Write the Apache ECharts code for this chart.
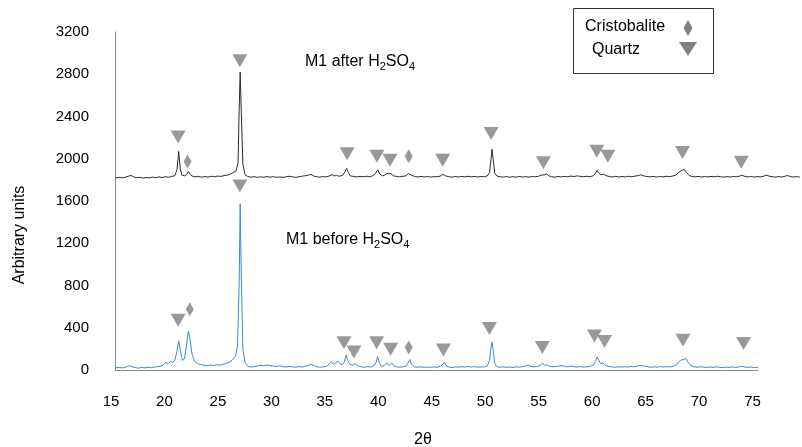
<!DOCTYPE html>
<html>
<head>
<meta charset="utf-8">
<title>XRD M1</title>
<script src="https://cdn.jsdelivr.net/npm/echarts@6/dist/echarts.min.js"></script>
<style>
  html, body { margin: 0; padding: 0; background: #fff; }
  #chart { width: 802px; height: 447px; }
</style>
</head>
<body>
<div id="chart"></div>
<script>
// 2θ tick labels
const xTicks = [15, 20, 25, 30, 35, 40, 45, 50, 55, 60, 65, 70, 75]
const yTicks = [0, 400, 800, 1200, 1600, 2000, 2400, 2800, 3200]

// M1 after H2SO4 (black trace), [2θ, counts]
const afterAcid = [
  [15.4,1818],[15.8,1824],[16.1,1819],[16.4,1827],[16.7,1836],[16.9,1842],[17.1,1830],[17.4,1821],[17.7,1824],[18.0,1817],
  [18.3,1823],[18.6,1819],[18.9,1826],[19.2,1821],[19.5,1828],[19.8,1822],[20.1,1830],[20.4,1825],[20.7,1833],[21.0,1840],
  [21.2,1900],[21.35,2070],[21.5,1905],[21.65,1845],[21.9,1838],[22.1,1850],[22.25,1880],[22.4,1855],[22.6,1836],[22.9,1829],
  [23.2,1833],[23.5,1826],[23.8,1831],[24.1,1827],[24.4,1834],[24.7,1829],[25.0,1836],[25.3,1833],[25.6,1840],[25.9,1845],
  [26.2,1855],[26.45,1870],[26.7,1880],[26.9,1960],[27.0,2450],[27.1,2820],[27.2,2450],[27.35,1950],[27.55,1850],[27.8,1832],
  [28.1,1826],[28.4,1830],[28.7,1824],[29.0,1829],[29.3,1825],[29.6,1831],[29.9,1826],[30.2,1830],[30.5,1824],[30.8,1828],
  [31.1,1823],[31.4,1830],[31.7,1834],[32.0,1828],[32.3,1824],[32.6,1829],[32.9,1835],[33.2,1840],[33.5,1845],[33.7,1852],
  [33.95,1838],[34.2,1830],[34.5,1826],[34.8,1831],[35.1,1828],[35.4,1836],[35.7,1850],[35.9,1838],[36.1,1842],[36.3,1835],
  [36.5,1838],[36.7,1845],[36.9,1880],[37.05,1910],[37.2,1870],[37.4,1838],[37.7,1832],[38.0,1828],[38.3,1833],[38.6,1829],
  [38.9,1834],[39.2,1830],[39.5,1840],[39.75,1860],[39.95,1895],[40.15,1855],[40.4,1838],[40.6,1845],[40.8,1860],[40.95,1845],
  [41.2,1858],[41.4,1840],[41.7,1832],[42.0,1829],[42.3,1834],[42.6,1838],[42.8,1860],[42.95,1872],[43.1,1845],[43.4,1832],
  [43.7,1828],[44.0,1833],[44.3,1827],[44.6,1832],[44.9,1826],[45.2,1831],[45.5,1829],[45.8,1836],[46.05,1852],[46.3,1838],
  [46.6,1830],[46.9,1826],[47.2,1832],[47.5,1827],[47.8,1833],[48.1,1828],[48.4,1834],[48.7,1829],[49.0,1833],[49.3,1827],
  [49.6,1832],[49.9,1830],[50.2,1838],[50.4,1870],[50.55,2000],[50.64,2090],[50.75,1990],[50.9,1860],[51.1,1836],[51.4,1830],
  [51.7,1826],[52.0,1831],[52.3,1825],[52.6,1830],[52.9,1826],[53.2,1832],[53.5,1827],[53.8,1831],[54.1,1826],[54.4,1832],
  [54.7,1829],[55.0,1835],[55.25,1845],[55.4,1860],[55.55,1848],[55.75,1855],[55.95,1838],[56.2,1830],[56.5,1826],[56.8,1832],
  [57.1,1828],[57.4,1833],[57.7,1829],[58.0,1836],[58.3,1832],[58.6,1838],[58.9,1833],[59.2,1830],[59.5,1834],[59.8,1829],
  [60.1,1840],[60.3,1860],[60.45,1890],[60.6,1865],[60.8,1848],[61.05,1855],[61.3,1840],[61.6,1832],[61.9,1828],[62.2,1833],
  [62.5,1827],[62.8,1832],[63.1,1828],[63.4,1834],[63.7,1830],[64.0,1836],[64.3,1840],[64.55,1848],[64.8,1838],[65.1,1832],
  [65.4,1828],[65.7,1833],[66.0,1827],[66.3,1832],[66.6,1828],[66.9,1834],[67.2,1830],[67.5,1836],[67.8,1845],[68.05,1868],
  [68.25,1882],[68.4,1865],[68.6,1900],[68.8,1870],[69.05,1842],[69.3,1832],[69.6,1828],[69.9,1833],[70.2,1827],[70.5,1832],
  [70.8,1828],[71.1,1833],[71.4,1829],[71.7,1834],[72.0,1830],[72.3,1826],[72.6,1831],[72.9,1827],[73.2,1832],[73.5,1829],
  [73.8,1836],[74.0,1845],[74.2,1835],[74.5,1828],[74.8,1832],[75.1,1827],[75.4,1831],[75.7,1828],[76.0,1834],[76.3,1845],
  [76.5,1836],[76.8,1830],[77.1,1826],[77.4,1831],[77.7,1827],[78.0,1833],[78.25,1842],[78.5,1832],[78.8,1827],[79.1,1831],
  [79.4,1826]
]

// M1 before H2SO4 (blue trace)
const beforeAcid = [
  [15.4,20],[15.8,24],[16.1,20],[16.4,27],[16.6,35],[16.8,42],[17.0,30],[17.3,22],[17.6,18],[17.9,25],
  [18.2,20],[18.5,27],[18.8,22],[19.1,28],[19.4,32],[19.7,38],[19.9,45],[20.1,70],[20.25,55],[20.4,60],
  [20.6,85],[20.8,70],[21.0,95],[21.2,180],[21.35,275],[21.5,190],[21.7,90],[21.9,110],[22.1,250],[22.25,365],
  [22.4,300],[22.6,150],[22.85,80],[23.1,60],[23.4,52],[23.7,45],[24.0,40],[24.3,48],[24.6,42],[24.9,50],
  [25.2,46],[25.5,55],[25.8,62],[26.1,75],[26.4,100],[26.65,130],[26.85,220],[27.0,800],[27.1,1575],[27.2,900],
  [27.35,200],[27.55,70],[27.8,35],[28.1,28],[28.4,32],[28.7,38],[29.0,45],[29.3,40],[29.6,48],[29.9,42],
  [30.2,38],[30.5,34],[30.8,40],[31.1,33],[31.4,28],[31.7,34],[32.0,30],[32.3,26],[32.6,32],[32.9,28],
  [33.2,36],[33.5,42],[33.75,56],[34.0,40],[34.3,30],[34.6,26],[34.9,30],[35.2,36],[35.4,55],[35.6,80],
  [35.8,55],[36.0,62],[36.2,85],[36.4,60],[36.6,48],[36.8,70],[37.0,140],[37.15,90],[37.35,55],[37.6,45],
  [37.85,60],[38.1,38],[38.4,30],[38.7,26],[39.0,32],[39.3,28],[39.6,38],[39.8,70],[39.95,127],[40.1,70],
  [40.3,35],[40.55,40],[40.8,68],[41.0,42],[41.25,68],[41.45,40],[41.7,30],[42.0,26],[42.3,30],[42.6,36],
  [42.8,70],[42.95,100],[43.1,55],[43.4,30],[43.7,26],[44.0,30],[44.3,25],[44.6,28],[44.9,24],[45.2,30],
  [45.5,26],[45.8,34],[46.05,55],[46.2,76],[46.35,40],[46.6,28],[46.9,24],[47.2,30],[47.5,26],[47.8,32],
  [48.1,27],[48.4,33],[48.7,28],[49.0,32],[49.3,26],[49.6,30],[49.9,28],[50.2,38],[50.4,90],[50.55,220],
  [50.64,265],[50.75,180],[50.9,60],[51.1,30],[51.4,26],[51.7,30],[52.0,25],[52.3,28],[52.6,24],[52.9,30],
  [53.2,27],[53.5,32],[53.8,38],[54.0,48],[54.2,36],[54.5,30],[54.8,34],[55.1,40],[55.35,64],[55.55,45],
  [55.75,50],[56.0,35],[56.3,30],[56.6,34],[56.9,38],[57.1,42],[57.4,36],[57.7,30],[58.0,38],[58.3,32],
  [58.6,28],[58.9,32],[59.2,28],[59.5,30],[59.8,35],[60.1,45],[60.3,80],[60.45,123],[60.6,95],[60.8,60],
  [61.0,66],[61.2,48],[61.5,35],[61.8,30],[62.1,26],[62.4,30],[62.7,27],[63.0,32],[63.3,28],[63.6,33],
  [63.9,30],[64.2,36],[64.4,42],[64.65,41],[64.9,36],[65.2,30],[65.5,26],[65.8,30],[66.1,27],[66.4,32],
  [66.7,28],[67.0,32],[67.3,29],[67.6,35],[67.9,50],[68.15,85],[68.35,95],[68.5,88],[68.75,107],[68.95,75],
  [69.2,42],[69.5,30],[69.8,26],[70.1,30],[70.4,27],[70.7,24],[71.0,28],[71.3,25],[71.6,30],[71.9,26],
  [72.2,22],[72.5,27],[72.8,24],[73.1,29],[73.4,25],[73.7,28],[73.95,35],[74.2,30],[74.5,25],[74.8,28],
  [75.1,24],[75.5,26]
]

// peak markers, [2θ, marker height]
const quartzMarks = [
  [21.3,2206],[27.07,2928],[27.07,1741],[37.1,2048],[39.88,2023],[41.1,1985],[46.03,1985],[50.55,2238],
  [55.44,1963],[60.43,2070],[61.46,2023],[68.44,2058],[73.93,1968],
  [21.3,472],[36.8,259],[37.73,171],[39.85,259],[41.16,196],[46.09,190],[50.39,392],[55.34,212],
  [60.21,323],[61.15,269],[68.48,282],[74.15,250]
]
const cristobaliteMarks = [
  [22.18,1975],[42.85,2023],
  [22.39,576],[42.85,212]
]

const FONT = "'Liberation Sans', Arial, sans-serif"
const MARK = '#808080'
const AXIS = '#8c8c8c'

const chart = echarts.init(document.getElementById('chart'), null, { renderer: 'canvas' })

const subRich = {
  a: { fontSize: 16, lineHeight: 20, fontFamily: FONT, color: '#000' },
  s: { fontSize: 11, lineHeight: 10, fontFamily: FONT, color: '#000', verticalAlign: 'bottom' }
}

const hiddenAxis = {
  axisLine: { show: false }, axisTick: { show: false }, axisLabel: { show: false }, splitLine: { show: false }
}

const option = {
  animation: false,
  backgroundColor: '#fff',
  textStyle: { fontFamily: FONT },
  grid: [
    // tick labels
    { left: 111, top: 32, width: 641.5, height: 338 },
    // data, runs past the drawn axis so the upper trace reaches the edge
    { left: 115, top: 32, width: 685, height: 338 },
    // drawn axes
    { left: 115, top: 32, width: 643, height: 338 }
  ],
  xAxis: [
    {
      gridIndex: 0, type: 'value', min: xTicks[0], max: xTicks[xTicks.length - 1], interval: 5,
      axisLine: { show: false }, axisTick: { show: false }, splitLine: { show: false },
      axisLabel: { margin: 24, fontSize: 15, color: '#000', fontFamily: FONT }
    },
    Object.assign({ gridIndex: 1, type: 'value', min: 15.4, max: 79.42 }, hiddenAxis),
    {
      gridIndex: 2, type: 'value', min: 15.4, max: 75.5,
      axisLine: { show: true, onZero: false, lineStyle: { color: AXIS, width: 1 } },
      axisTick: { show: false }, splitLine: { show: false }, axisLabel: { show: false }
    }
  ],
  yAxis: [
    Object.assign({ gridIndex: 0, type: 'value', min: 0, max: 3200 }, hiddenAxis),
    Object.assign({ gridIndex: 1, type: 'value', min: 0, max: 3200 }, hiddenAxis),
    {
      gridIndex: 2, type: 'value', min: yTicks[0], max: yTicks[yTicks.length - 1], interval: 400,
      axisLine: { show: true, lineStyle: { color: AXIS, width: 1 } },
      axisTick: { show: false }, splitLine: { show: false },
      axisLabel: { margin: 26, fontSize: 15, color: '#000', fontFamily: FONT, formatter: v => String(v) }
    }
  ],
  series: [
    {
      name: 'M1 before H2SO4', type: 'line', xAxisIndex: 1, yAxisIndex: 1,
      data: beforeAcid, showSymbol: false,
      lineStyle: { color: '#3b88d8', width: 1 }
    },
    {
      name: 'M1 after H2SO4', type: 'line', xAxisIndex: 1, yAxisIndex: 1,
      data: afterAcid, showSymbol: false,
      lineStyle: { color: '#2b2b2b', width: 1 }
    },
    {
      name: 'Quartz', type: 'scatter', xAxisIndex: 1, yAxisIndex: 1,
      data: quartzMarks, symbol: 'triangle', symbolRotate: 180, symbolSize: [15, 13],
      itemStyle: { color: MARK }
    },
    {
      name: 'Cristobalite', type: 'scatter', xAxisIndex: 1, yAxisIndex: 1,
      data: cristobaliteMarks, symbol: 'diamond', symbolSize: [8, 14],
      itemStyle: { color: MARK }
    }
  ],
  graphic: [
    // axis titles
    {
      type: 'text', x: 20, y: 235, rotation: Math.PI / 2,
      style: { text: 'Arbitrary units', fontSize: 16, fontFamily: FONT, fill: '#000', align: 'center', verticalAlign: 'middle' }
    },
    {
      type: 'text', x: 423, y: 440,
      style: { text: '2θ', fontSize: 16, fontFamily: FONT, fill: '#000', align: 'center', verticalAlign: 'middle' }
    },
    // trace labels
    {
      type: 'text', x: 305, y: 62,
      style: { text: '{a|M1 after H}{s|2}{a|SO}{s|4}', rich: subRich, verticalAlign: 'middle' }
    },
    {
      type: 'text', x: 286, y: 240,
      style: { text: '{a|M1 before H}{s|2}{a|SO}{s|4}', rich: subRich, verticalAlign: 'middle' }
    },
    // legend box
    {
      type: 'rect', shape: { x: 573.5, y: 8.5, width: 140, height: 65 },
      style: { fill: '#fff', stroke: '#333', lineWidth: 1 }
    },
    {
      type: 'text', x: 585, y: 27,
      style: { text: 'Cristobalite', fontSize: 16, fontFamily: FONT, fill: '#000', verticalAlign: 'middle' }
    },
    {
      type: 'text', x: 592, y: 50,
      style: { text: 'Quartz', fontSize: 16, fontFamily: FONT, fill: '#000', verticalAlign: 'middle' }
    },
    {
      type: 'polygon', shape: { points: [[688, 20], [692.5, 28], [688, 36], [683.5, 28]] },
      style: { fill: MARK }
    },
    {
      type: 'polygon', shape: { points: [[679, 42], [697, 42], [688, 56]] },
      style: { fill: MARK }
    }
  ]
}

chart.setOption(option)
</script>
</body>
</html>
